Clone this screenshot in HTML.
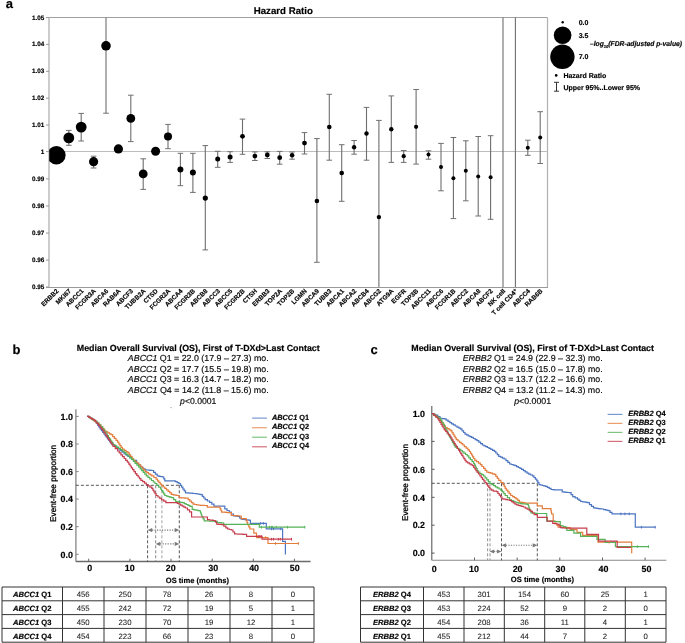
<!DOCTYPE html>
<html><head><meta charset="utf-8"><style>
html,body{margin:0;padding:0;background:#fff;}
body{width:685px;height:643px;overflow:hidden;}
svg{display:block;font-family:"Liberation Sans", sans-serif;will-change:transform;text-rendering:geometricPrecision;}
text{stroke:#000;stroke-width:0.17px;}
</style></head><body>
<svg width="685" height="643" viewBox="0 0 685 643" fill="#000">
<defs><clipPath id="pa"><rect x="49.2" y="0" width="500" height="300"/></clipPath></defs>
<text x="5.8" y="8.2" font-size="13" font-weight="bold">a</text>
<text x="283.3" y="13.9" font-size="9.7" font-weight="bold" text-anchor="middle">Hazard Ratio</text>
<line x1="49.0" y1="17.5" x2="547.5" y2="17.5" stroke="#a0a0a0" stroke-width="1"/>
<line x1="547.5" y1="17.5" x2="547.5" y2="287.2" stroke="#b0b0b0" stroke-width="1.2"/>
<line x1="49.0" y1="17.5" x2="49.0" y2="286.7" stroke="#cccccc" stroke-width="2"/>
<line x1="46.0" y1="287.4" x2="548.0" y2="287.4" stroke="#999" stroke-width="1.05"/>
<line x1="50.0" y1="151.5" x2="547.5" y2="151.5" stroke="#bdbdbd" stroke-width="1"/>
<line x1="46.0" y1="17.5" x2="49.0" y2="17.5" stroke="#999" stroke-width="1"/>
<text x="44.2" y="19.5" font-size="6.3" font-weight="bold" text-anchor="end" stroke="#000" stroke-width="0.15">1.05</text>
<line x1="46.0" y1="44.4" x2="49.0" y2="44.4" stroke="#999" stroke-width="1"/>
<text x="44.2" y="46.4" font-size="6.3" font-weight="bold" text-anchor="end" stroke="#000" stroke-width="0.15">1.04</text>
<line x1="46.0" y1="71.3" x2="49.0" y2="71.3" stroke="#999" stroke-width="1"/>
<text x="44.2" y="73.3" font-size="6.3" font-weight="bold" text-anchor="end" stroke="#000" stroke-width="0.15">1.03</text>
<line x1="46.0" y1="98.2" x2="49.0" y2="98.2" stroke="#999" stroke-width="1"/>
<text x="44.2" y="100.2" font-size="6.3" font-weight="bold" text-anchor="end" stroke="#000" stroke-width="0.15">1.02</text>
<line x1="46.0" y1="125.0" x2="49.0" y2="125.0" stroke="#999" stroke-width="1"/>
<text x="44.2" y="127.0" font-size="6.3" font-weight="bold" text-anchor="end" stroke="#000" stroke-width="0.15">1.01</text>
<line x1="46.0" y1="151.6" x2="49.0" y2="151.6" stroke="#999" stroke-width="1"/>
<text x="44.2" y="153.6" font-size="6.3" font-weight="bold" text-anchor="end" stroke="#000" stroke-width="0.15">1</text>
<line x1="46.0" y1="178.9" x2="49.0" y2="178.9" stroke="#999" stroke-width="1"/>
<text x="44.2" y="180.9" font-size="6.3" font-weight="bold" text-anchor="end" stroke="#000" stroke-width="0.15">0.99</text>
<line x1="46.0" y1="206.0" x2="49.0" y2="206.0" stroke="#999" stroke-width="1"/>
<text x="44.2" y="208.0" font-size="6.3" font-weight="bold" text-anchor="end" stroke="#000" stroke-width="0.15">0.98</text>
<line x1="46.0" y1="233.1" x2="49.0" y2="233.1" stroke="#999" stroke-width="1"/>
<text x="44.2" y="235.1" font-size="6.3" font-weight="bold" text-anchor="end" stroke="#000" stroke-width="0.15">0.97</text>
<line x1="46.0" y1="260.1" x2="49.0" y2="260.1" stroke="#999" stroke-width="1"/>
<text x="44.2" y="262.1" font-size="6.3" font-weight="bold" text-anchor="end" stroke="#000" stroke-width="0.15">0.96</text>
<line x1="46.0" y1="287.0" x2="49.0" y2="287.0" stroke="#999" stroke-width="1"/>
<text x="44.2" y="289.0" font-size="6.3" font-weight="bold" text-anchor="end" stroke="#000" stroke-width="0.15">0.95</text>
<circle cx="56.4" cy="155.3" r="9.2" fill="#000" clip-path="url(#pa)"/>
<line x1="68.8" y1="130.4" x2="68.8" y2="145.3" stroke="#6e6e6e" stroke-width="1.1"/>
<line x1="66.0" y1="130.4" x2="71.6" y2="130.4" stroke="#707070" stroke-width="1"/>
<line x1="66.0" y1="145.3" x2="71.6" y2="145.3" stroke="#707070" stroke-width="1"/>
<circle cx="68.8" cy="137.9" r="5.4" fill="#000" clip-path="url(#pa)"/>
<line x1="81.2" y1="113.4" x2="81.2" y2="141.0" stroke="#6e6e6e" stroke-width="1.1"/>
<line x1="78.4" y1="113.4" x2="84.0" y2="113.4" stroke="#707070" stroke-width="1"/>
<line x1="78.4" y1="141.0" x2="84.0" y2="141.0" stroke="#707070" stroke-width="1"/>
<circle cx="81.2" cy="127.1" r="5.4" fill="#000" clip-path="url(#pa)"/>
<line x1="93.6" y1="156.2" x2="93.6" y2="168.0" stroke="#6e6e6e" stroke-width="1.1"/>
<line x1="90.8" y1="156.2" x2="96.4" y2="156.2" stroke="#707070" stroke-width="1"/>
<line x1="90.8" y1="168.0" x2="96.4" y2="168.0" stroke="#707070" stroke-width="1"/>
<circle cx="93.6" cy="161.7" r="4.6" fill="#000" clip-path="url(#pa)"/>
<line x1="106.0" y1="17.5" x2="106.0" y2="113.2" stroke="#6e6e6e" stroke-width="1.1"/>
<line x1="103.2" y1="113.2" x2="108.8" y2="113.2" stroke="#707070" stroke-width="1"/>
<circle cx="106.0" cy="45.8" r="4.8" fill="#000" clip-path="url(#pa)"/>
<circle cx="118.4" cy="148.9" r="4.6" fill="#000" clip-path="url(#pa)"/>
<line x1="130.8" y1="95.2" x2="130.8" y2="141.6" stroke="#6e6e6e" stroke-width="1.1"/>
<line x1="128.0" y1="95.2" x2="133.6" y2="95.2" stroke="#707070" stroke-width="1"/>
<line x1="128.0" y1="141.6" x2="133.6" y2="141.6" stroke="#707070" stroke-width="1"/>
<circle cx="130.8" cy="118.4" r="4.4" fill="#000" clip-path="url(#pa)"/>
<line x1="143.2" y1="158.8" x2="143.2" y2="189.4" stroke="#6e6e6e" stroke-width="1.1"/>
<line x1="140.4" y1="158.8" x2="146.0" y2="158.8" stroke="#707070" stroke-width="1"/>
<line x1="140.4" y1="189.4" x2="146.0" y2="189.4" stroke="#707070" stroke-width="1"/>
<circle cx="143.2" cy="173.9" r="4.4" fill="#000" clip-path="url(#pa)"/>
<circle cx="155.6" cy="151.3" r="4.5" fill="#000" clip-path="url(#pa)"/>
<line x1="168.0" y1="124.4" x2="168.0" y2="148.7" stroke="#6e6e6e" stroke-width="1.1"/>
<line x1="165.2" y1="124.4" x2="170.8" y2="124.4" stroke="#707070" stroke-width="1"/>
<line x1="165.2" y1="148.7" x2="170.8" y2="148.7" stroke="#707070" stroke-width="1"/>
<circle cx="168.0" cy="136.5" r="4.0" fill="#000" clip-path="url(#pa)"/>
<line x1="180.4" y1="153.3" x2="180.4" y2="185.7" stroke="#6e6e6e" stroke-width="1.1"/>
<line x1="177.6" y1="153.3" x2="183.2" y2="153.3" stroke="#707070" stroke-width="1"/>
<line x1="177.6" y1="185.7" x2="183.2" y2="185.7" stroke="#707070" stroke-width="1"/>
<circle cx="180.4" cy="169.5" r="3.0" fill="#000" clip-path="url(#pa)"/>
<line x1="192.9" y1="153.3" x2="192.9" y2="192.4" stroke="#6e6e6e" stroke-width="1.1"/>
<line x1="190.1" y1="153.3" x2="195.7" y2="153.3" stroke="#707070" stroke-width="1"/>
<line x1="190.1" y1="192.4" x2="195.7" y2="192.4" stroke="#707070" stroke-width="1"/>
<circle cx="192.9" cy="172.6" r="3.0" fill="#000" clip-path="url(#pa)"/>
<line x1="205.3" y1="145.6" x2="205.3" y2="249.9" stroke="#6e6e6e" stroke-width="1.1"/>
<line x1="202.5" y1="145.6" x2="208.1" y2="145.6" stroke="#707070" stroke-width="1"/>
<line x1="202.5" y1="249.9" x2="208.1" y2="249.9" stroke="#707070" stroke-width="1"/>
<circle cx="205.3" cy="198.1" r="2.6" fill="#000" clip-path="url(#pa)"/>
<line x1="217.7" y1="151.3" x2="217.7" y2="167.3" stroke="#6e6e6e" stroke-width="1.1"/>
<line x1="214.9" y1="151.3" x2="220.5" y2="151.3" stroke="#707070" stroke-width="1"/>
<line x1="214.9" y1="167.3" x2="220.5" y2="167.3" stroke="#707070" stroke-width="1"/>
<circle cx="217.7" cy="159.1" r="2.5" fill="#000" clip-path="url(#pa)"/>
<line x1="230.1" y1="151.7" x2="230.1" y2="162.4" stroke="#6e6e6e" stroke-width="1.1"/>
<line x1="227.3" y1="151.7" x2="232.9" y2="151.7" stroke="#707070" stroke-width="1"/>
<line x1="227.3" y1="162.4" x2="232.9" y2="162.4" stroke="#707070" stroke-width="1"/>
<circle cx="230.1" cy="156.9" r="2.5" fill="#000" clip-path="url(#pa)"/>
<line x1="242.5" y1="119.1" x2="242.5" y2="154.3" stroke="#6e6e6e" stroke-width="1.1"/>
<line x1="239.7" y1="119.1" x2="245.3" y2="119.1" stroke="#707070" stroke-width="1"/>
<line x1="239.7" y1="154.3" x2="245.3" y2="154.3" stroke="#707070" stroke-width="1"/>
<circle cx="242.5" cy="136.3" r="2.4" fill="#000" clip-path="url(#pa)"/>
<line x1="254.9" y1="151.9" x2="254.9" y2="160.5" stroke="#6e6e6e" stroke-width="1.1"/>
<line x1="252.1" y1="151.9" x2="257.7" y2="151.9" stroke="#707070" stroke-width="1"/>
<line x1="252.1" y1="160.5" x2="257.7" y2="160.5" stroke="#707070" stroke-width="1"/>
<circle cx="254.9" cy="156.1" r="2.4" fill="#000" clip-path="url(#pa)"/>
<line x1="267.3" y1="151.8" x2="267.3" y2="158.5" stroke="#6e6e6e" stroke-width="1.1"/>
<line x1="264.5" y1="151.8" x2="270.1" y2="151.8" stroke="#707070" stroke-width="1"/>
<line x1="264.5" y1="158.5" x2="270.1" y2="158.5" stroke="#707070" stroke-width="1"/>
<circle cx="267.3" cy="154.9" r="2.4" fill="#000" clip-path="url(#pa)"/>
<line x1="279.7" y1="151.4" x2="279.7" y2="164.2" stroke="#6e6e6e" stroke-width="1.1"/>
<line x1="276.9" y1="151.4" x2="282.5" y2="151.4" stroke="#707070" stroke-width="1"/>
<line x1="276.9" y1="164.2" x2="282.5" y2="164.2" stroke="#707070" stroke-width="1"/>
<circle cx="279.7" cy="157.7" r="2.4" fill="#000" clip-path="url(#pa)"/>
<line x1="292.1" y1="152.0" x2="292.1" y2="159.2" stroke="#6e6e6e" stroke-width="1.1"/>
<line x1="289.3" y1="152.0" x2="294.9" y2="152.0" stroke="#707070" stroke-width="1"/>
<line x1="289.3" y1="159.2" x2="294.9" y2="159.2" stroke="#707070" stroke-width="1"/>
<circle cx="292.1" cy="155.3" r="2.3" fill="#000" clip-path="url(#pa)"/>
<line x1="304.5" y1="132.6" x2="304.5" y2="154.0" stroke="#6e6e6e" stroke-width="1.1"/>
<line x1="301.7" y1="132.6" x2="307.3" y2="132.6" stroke="#707070" stroke-width="1"/>
<line x1="301.7" y1="154.0" x2="307.3" y2="154.0" stroke="#707070" stroke-width="1"/>
<circle cx="304.5" cy="143.1" r="2.4" fill="#000" clip-path="url(#pa)"/>
<line x1="316.9" y1="138.6" x2="316.9" y2="262.3" stroke="#6e6e6e" stroke-width="1.1"/>
<line x1="314.1" y1="138.6" x2="319.7" y2="138.6" stroke="#707070" stroke-width="1"/>
<line x1="314.1" y1="262.3" x2="319.7" y2="262.3" stroke="#707070" stroke-width="1"/>
<circle cx="316.9" cy="201.0" r="2.3" fill="#000" clip-path="url(#pa)"/>
<line x1="329.3" y1="94.3" x2="329.3" y2="160.2" stroke="#6e6e6e" stroke-width="1.1"/>
<line x1="326.5" y1="94.3" x2="332.1" y2="94.3" stroke="#707070" stroke-width="1"/>
<line x1="326.5" y1="160.2" x2="332.1" y2="160.2" stroke="#707070" stroke-width="1"/>
<circle cx="329.3" cy="127.0" r="2.3" fill="#000" clip-path="url(#pa)"/>
<line x1="341.7" y1="144.7" x2="341.7" y2="201.3" stroke="#6e6e6e" stroke-width="1.1"/>
<line x1="338.9" y1="144.7" x2="344.5" y2="144.7" stroke="#707070" stroke-width="1"/>
<line x1="338.9" y1="201.3" x2="344.5" y2="201.3" stroke="#707070" stroke-width="1"/>
<circle cx="341.7" cy="173.0" r="2.3" fill="#000" clip-path="url(#pa)"/>
<line x1="354.1" y1="140.5" x2="354.1" y2="154.2" stroke="#6e6e6e" stroke-width="1.1"/>
<line x1="351.3" y1="140.5" x2="356.9" y2="140.5" stroke="#707070" stroke-width="1"/>
<line x1="351.3" y1="154.2" x2="356.9" y2="154.2" stroke="#707070" stroke-width="1"/>
<circle cx="354.1" cy="147.3" r="2.2" fill="#000" clip-path="url(#pa)"/>
<line x1="366.5" y1="107.4" x2="366.5" y2="160.2" stroke="#6e6e6e" stroke-width="1.1"/>
<line x1="363.7" y1="107.4" x2="369.3" y2="107.4" stroke="#707070" stroke-width="1"/>
<line x1="363.7" y1="160.2" x2="369.3" y2="160.2" stroke="#707070" stroke-width="1"/>
<circle cx="366.5" cy="133.5" r="2.2" fill="#000" clip-path="url(#pa)"/>
<line x1="378.9" y1="120.4" x2="378.9" y2="287.0" stroke="#6e6e6e" stroke-width="1.1"/>
<line x1="376.1" y1="120.4" x2="381.7" y2="120.4" stroke="#707070" stroke-width="1"/>
<circle cx="378.9" cy="217.1" r="2.2" fill="#000" clip-path="url(#pa)"/>
<line x1="391.3" y1="95.9" x2="391.3" y2="162.4" stroke="#6e6e6e" stroke-width="1.1"/>
<line x1="388.5" y1="95.9" x2="394.1" y2="95.9" stroke="#707070" stroke-width="1"/>
<line x1="388.5" y1="162.4" x2="394.1" y2="162.4" stroke="#707070" stroke-width="1"/>
<circle cx="391.3" cy="129.3" r="2.2" fill="#000" clip-path="url(#pa)"/>
<line x1="403.7" y1="150.5" x2="403.7" y2="162.4" stroke="#6e6e6e" stroke-width="1.1"/>
<line x1="400.9" y1="150.5" x2="406.5" y2="150.5" stroke="#707070" stroke-width="1"/>
<line x1="400.9" y1="162.4" x2="406.5" y2="162.4" stroke="#707070" stroke-width="1"/>
<circle cx="403.7" cy="156.2" r="2.1" fill="#000" clip-path="url(#pa)"/>
<line x1="416.1" y1="89.5" x2="416.1" y2="164.1" stroke="#6e6e6e" stroke-width="1.1"/>
<line x1="413.3" y1="89.5" x2="418.9" y2="89.5" stroke="#707070" stroke-width="1"/>
<line x1="413.3" y1="164.1" x2="418.9" y2="164.1" stroke="#707070" stroke-width="1"/>
<circle cx="416.1" cy="126.8" r="2.1" fill="#000" clip-path="url(#pa)"/>
<line x1="428.5" y1="150.8" x2="428.5" y2="159.2" stroke="#6e6e6e" stroke-width="1.1"/>
<line x1="425.7" y1="150.8" x2="431.3" y2="150.8" stroke="#707070" stroke-width="1"/>
<line x1="425.7" y1="159.2" x2="431.3" y2="159.2" stroke="#707070" stroke-width="1"/>
<circle cx="428.5" cy="154.5" r="2.0" fill="#000" clip-path="url(#pa)"/>
<line x1="441.0" y1="143.4" x2="441.0" y2="190.8" stroke="#6e6e6e" stroke-width="1.1"/>
<line x1="438.2" y1="143.4" x2="443.8" y2="143.4" stroke="#707070" stroke-width="1"/>
<line x1="438.2" y1="190.8" x2="443.8" y2="190.8" stroke="#707070" stroke-width="1"/>
<circle cx="441.0" cy="167.0" r="2.0" fill="#000" clip-path="url(#pa)"/>
<line x1="453.4" y1="137.5" x2="453.4" y2="218.6" stroke="#6e6e6e" stroke-width="1.1"/>
<line x1="450.6" y1="137.5" x2="456.2" y2="137.5" stroke="#707070" stroke-width="1"/>
<line x1="450.6" y1="218.6" x2="456.2" y2="218.6" stroke="#707070" stroke-width="1"/>
<circle cx="453.4" cy="178.2" r="2.0" fill="#000" clip-path="url(#pa)"/>
<line x1="465.8" y1="140.8" x2="465.8" y2="200.8" stroke="#6e6e6e" stroke-width="1.1"/>
<line x1="463.0" y1="140.8" x2="468.6" y2="140.8" stroke="#707070" stroke-width="1"/>
<line x1="463.0" y1="200.8" x2="468.6" y2="200.8" stroke="#707070" stroke-width="1"/>
<circle cx="465.8" cy="170.7" r="2.0" fill="#000" clip-path="url(#pa)"/>
<line x1="478.2" y1="136.5" x2="478.2" y2="216.0" stroke="#6e6e6e" stroke-width="1.1"/>
<line x1="475.4" y1="136.5" x2="481.0" y2="136.5" stroke="#707070" stroke-width="1"/>
<line x1="475.4" y1="216.0" x2="481.0" y2="216.0" stroke="#707070" stroke-width="1"/>
<circle cx="478.2" cy="176.4" r="2.0" fill="#000" clip-path="url(#pa)"/>
<line x1="490.6" y1="135.7" x2="490.6" y2="219.3" stroke="#6e6e6e" stroke-width="1.1"/>
<line x1="487.8" y1="135.7" x2="493.4" y2="135.7" stroke="#707070" stroke-width="1"/>
<line x1="487.8" y1="219.3" x2="493.4" y2="219.3" stroke="#707070" stroke-width="1"/>
<circle cx="490.6" cy="177.3" r="2.0" fill="#000" clip-path="url(#pa)"/>
<line x1="503.0" y1="17.5" x2="503.0" y2="287.0" stroke="#6e6e6e" stroke-width="1.1"/>
<line x1="515.4" y1="17.5" x2="515.4" y2="287.0" stroke="#6e6e6e" stroke-width="1.1"/>
<line x1="527.8" y1="140.2" x2="527.8" y2="155.3" stroke="#6e6e6e" stroke-width="1.1"/>
<line x1="525.0" y1="140.2" x2="530.6" y2="140.2" stroke="#707070" stroke-width="1"/>
<line x1="525.0" y1="155.3" x2="530.6" y2="155.3" stroke="#707070" stroke-width="1"/>
<circle cx="527.8" cy="147.7" r="2.0" fill="#000" clip-path="url(#pa)"/>
<line x1="540.2" y1="111.7" x2="540.2" y2="163.5" stroke="#6e6e6e" stroke-width="1.1"/>
<line x1="537.4" y1="111.7" x2="543.0" y2="111.7" stroke="#707070" stroke-width="1"/>
<line x1="537.4" y1="163.5" x2="543.0" y2="163.5" stroke="#707070" stroke-width="1"/>
<circle cx="540.2" cy="137.4" r="2.0" fill="#000" clip-path="url(#pa)"/>
<text transform="translate(56.3,288.7) rotate(-45)" font-size="6.4" font-weight="bold" text-anchor="end" dominant-baseline="hanging">ERBB2</text>
<text transform="translate(68.7,288.7) rotate(-45)" font-size="6.4" font-weight="bold" text-anchor="end" dominant-baseline="hanging">MKI67</text>
<text transform="translate(81.1,288.7) rotate(-45)" font-size="6.4" font-weight="bold" text-anchor="end" dominant-baseline="hanging">ABCC1</text>
<text transform="translate(93.5,288.7) rotate(-45)" font-size="6.4" font-weight="bold" text-anchor="end" dominant-baseline="hanging">FCGR3A</text>
<text transform="translate(105.9,288.7) rotate(-45)" font-size="6.4" font-weight="bold" text-anchor="end" dominant-baseline="hanging">ABCA6</text>
<text transform="translate(118.3,288.7) rotate(-45)" font-size="6.4" font-weight="bold" text-anchor="end" dominant-baseline="hanging">RAB6A</text>
<text transform="translate(130.7,288.7) rotate(-45)" font-size="6.4" font-weight="bold" text-anchor="end" dominant-baseline="hanging">ABCF3</text>
<text transform="translate(143.1,288.7) rotate(-45)" font-size="6.4" font-weight="bold" text-anchor="end" dominant-baseline="hanging">TUBB2A</text>
<text transform="translate(155.5,288.7) rotate(-45)" font-size="6.4" font-weight="bold" text-anchor="end" dominant-baseline="hanging">CTSD</text>
<text transform="translate(167.9,288.7) rotate(-45)" font-size="6.4" font-weight="bold" text-anchor="end" dominant-baseline="hanging">FCGR2A</text>
<text transform="translate(180.3,288.7) rotate(-45)" font-size="6.4" font-weight="bold" text-anchor="end" dominant-baseline="hanging">ABCA4</text>
<text transform="translate(192.8,288.7) rotate(-45)" font-size="6.4" font-weight="bold" text-anchor="end" dominant-baseline="hanging">FCGR3B</text>
<text transform="translate(205.2,288.7) rotate(-45)" font-size="6.4" font-weight="bold" text-anchor="end" dominant-baseline="hanging">ABCB8</text>
<text transform="translate(217.6,288.7) rotate(-45)" font-size="6.4" font-weight="bold" text-anchor="end" dominant-baseline="hanging">ABCC3</text>
<text transform="translate(230.0,288.7) rotate(-45)" font-size="6.4" font-weight="bold" text-anchor="end" dominant-baseline="hanging">ABCC5</text>
<text transform="translate(242.4,288.7) rotate(-45)" font-size="6.4" font-weight="bold" text-anchor="end" dominant-baseline="hanging">FCGR2B</text>
<text transform="translate(254.8,288.7) rotate(-45)" font-size="6.4" font-weight="bold" text-anchor="end" dominant-baseline="hanging">CTSH</text>
<text transform="translate(267.2,288.7) rotate(-45)" font-size="6.4" font-weight="bold" text-anchor="end" dominant-baseline="hanging">ERBB3</text>
<text transform="translate(279.6,288.7) rotate(-45)" font-size="6.4" font-weight="bold" text-anchor="end" dominant-baseline="hanging">TOP2A</text>
<text transform="translate(292.0,288.7) rotate(-45)" font-size="6.4" font-weight="bold" text-anchor="end" dominant-baseline="hanging">TOP2B</text>
<text transform="translate(304.4,288.7) rotate(-45)" font-size="6.4" font-weight="bold" text-anchor="end" dominant-baseline="hanging">LGMN</text>
<text transform="translate(316.8,288.7) rotate(-45)" font-size="6.4" font-weight="bold" text-anchor="end" dominant-baseline="hanging">ABCA9</text>
<text transform="translate(329.2,288.7) rotate(-45)" font-size="6.4" font-weight="bold" text-anchor="end" dominant-baseline="hanging">TUBB3</text>
<text transform="translate(341.6,288.7) rotate(-45)" font-size="6.4" font-weight="bold" text-anchor="end" dominant-baseline="hanging">ABCA1</text>
<text transform="translate(354.0,288.7) rotate(-45)" font-size="6.4" font-weight="bold" text-anchor="end" dominant-baseline="hanging">ABCA2</text>
<text transform="translate(366.4,288.7) rotate(-45)" font-size="6.4" font-weight="bold" text-anchor="end" dominant-baseline="hanging">ABCB4</text>
<text transform="translate(378.8,288.7) rotate(-45)" font-size="6.4" font-weight="bold" text-anchor="end" dominant-baseline="hanging">ABCG2</text>
<text transform="translate(391.2,288.7) rotate(-45)" font-size="6.4" font-weight="bold" text-anchor="end" dominant-baseline="hanging">ATG9A</text>
<text transform="translate(403.6,288.7) rotate(-45)" font-size="6.4" font-weight="bold" text-anchor="end" dominant-baseline="hanging">EGFR</text>
<text transform="translate(416.0,288.7) rotate(-45)" font-size="6.4" font-weight="bold" text-anchor="end" dominant-baseline="hanging">TOP3B</text>
<text transform="translate(428.4,288.7) rotate(-45)" font-size="6.4" font-weight="bold" text-anchor="end" dominant-baseline="hanging">ABCC11</text>
<text transform="translate(440.9,288.7) rotate(-45)" font-size="6.4" font-weight="bold" text-anchor="end" dominant-baseline="hanging">ABCC6</text>
<text transform="translate(453.3,288.7) rotate(-45)" font-size="6.4" font-weight="bold" text-anchor="end" dominant-baseline="hanging">FCGR1B</text>
<text transform="translate(465.7,288.7) rotate(-45)" font-size="6.4" font-weight="bold" text-anchor="end" dominant-baseline="hanging">ABCC2</text>
<text transform="translate(478.1,288.7) rotate(-45)" font-size="6.4" font-weight="bold" text-anchor="end" dominant-baseline="hanging">ABCA8</text>
<text transform="translate(490.5,288.7) rotate(-45)" font-size="6.4" font-weight="bold" text-anchor="end" dominant-baseline="hanging">ABCF2</text>
<text transform="translate(502.9,288.7) rotate(-45)" font-size="6.4" font-weight="bold" text-anchor="end" dominant-baseline="hanging">NK cell</text>
<text transform="translate(515.3,288.7) rotate(-45)" font-size="6.4" font-weight="bold" text-anchor="end" dominant-baseline="hanging">T cell CD4<tspan font-size="5" dy="-1">+</tspan></text>
<text transform="translate(527.7,288.7) rotate(-45)" font-size="6.4" font-weight="bold" text-anchor="end" dominant-baseline="hanging">ABCC4</text>
<text transform="translate(540.1,288.7) rotate(-45)" font-size="6.4" font-weight="bold" text-anchor="end" dominant-baseline="hanging">RAB6B</text>
<circle cx="562.7" cy="22.3" r="1.2" fill="#000"/>
<circle cx="562.6" cy="35.2" r="8.8" fill="#000"/>
<circle cx="562.4" cy="56.8" r="12.2" fill="#000"/>
<text x="578.7" y="24.6" font-size="7" font-weight="bold">0.0</text>
<text x="578.7" y="38.1" font-size="7" font-weight="bold">3.5</text>
<text x="578.7" y="59.3" font-size="7" font-weight="bold">7.0</text>
<text x="590" y="46.3" font-size="7" font-weight="bold" font-style="italic" textLength="92" lengthAdjust="spacingAndGlyphs">&#8211;log<tspan font-size="4.2" dy="2">10</tspan><tspan dy="-2">(FDR-adjusted p-value)</tspan></text>
<circle cx="556.2" cy="75.4" r="1.3" fill="#000"/>
<text x="563.4" y="77.9" font-size="7" font-weight="bold">Hazard Ratio</text>
<path d="M554 82.3 H559 M556.5 82.3 V91.2 M554 91.2 H559" stroke="#333" stroke-width="1" fill="none"/>
<text x="563.4" y="90" font-size="7" font-weight="bold">Upper 95%..Lower 95%</text>
<text x="12.6" y="353.9" font-size="13" font-weight="bold">b</text>
<text x="198.25" y="350.9" font-size="8.86" font-weight="bold" text-anchor="middle" textLength="242.9" lengthAdjust="spacingAndGlyphs">Median Overall Survival (OS), First of T-DXd&gt;Last Contact</text>
<text x="198.25" y="361.4" font-size="8.7" text-anchor="middle" fill="#111" stroke="#111" stroke-width="0.18" textLength="140.8" lengthAdjust="spacingAndGlyphs"><tspan font-style="italic">ABCC1</tspan> Q1 = 22.0 (17.9 &#8211; 27.3) mo.</text>
<text x="198.25" y="371.8" font-size="8.7" text-anchor="middle" fill="#111" stroke="#111" stroke-width="0.18" textLength="140.8" lengthAdjust="spacingAndGlyphs"><tspan font-style="italic">ABCC1</tspan> Q2 = 17.7 (15.5 &#8211; 19.8) mo.</text>
<text x="198.25" y="382.2" font-size="8.7" text-anchor="middle" fill="#111" stroke="#111" stroke-width="0.18" textLength="140.8" lengthAdjust="spacingAndGlyphs"><tspan font-style="italic">ABCC1</tspan> Q3 = 16.3 (14.7 &#8211; 18.2) mo.</text>
<text x="198.25" y="392.6" font-size="8.7" text-anchor="middle" fill="#111" stroke="#111" stroke-width="0.18" textLength="140.8" lengthAdjust="spacingAndGlyphs"><tspan font-style="italic">ABCC1</tspan> Q4 = 14.2 (11.8 &#8211; 15.6) mo.</text>
<text x="198.25" y="403.5" font-size="8.7" text-anchor="middle" fill="#111" stroke="#111" stroke-width="0.18" textLength="36.4" lengthAdjust="spacingAndGlyphs"><tspan font-style="italic">p</tspan>&lt;0.0001</text>
<line x1="75.9" y1="409.3" x2="75.9" y2="561.5" stroke="#858585" stroke-width="1.3"/>
<line x1="75.9" y1="561.5" x2="310.6" y2="561.5" stroke="#6a6a6a" stroke-width="1.3"/>
<line x1="75.9" y1="554.3" x2="78.7" y2="554.3" stroke="#858585" stroke-width="1"/>
<text x="72.9" y="557.5" font-size="8.9" font-weight="bold" text-anchor="end">0.0</text>
<line x1="75.9" y1="526.7" x2="78.7" y2="526.7" stroke="#858585" stroke-width="1"/>
<text x="72.9" y="529.9" font-size="8.9" font-weight="bold" text-anchor="end">0.2</text>
<line x1="75.9" y1="499.1" x2="78.7" y2="499.1" stroke="#858585" stroke-width="1"/>
<text x="72.9" y="502.3" font-size="8.9" font-weight="bold" text-anchor="end">0.4</text>
<line x1="75.9" y1="471.6" x2="78.7" y2="471.6" stroke="#858585" stroke-width="1"/>
<text x="72.9" y="474.8" font-size="8.9" font-weight="bold" text-anchor="end">0.6</text>
<line x1="75.9" y1="444.0" x2="78.7" y2="444.0" stroke="#858585" stroke-width="1"/>
<text x="72.9" y="447.2" font-size="8.9" font-weight="bold" text-anchor="end">0.8</text>
<line x1="75.9" y1="416.4" x2="78.7" y2="416.4" stroke="#858585" stroke-width="1"/>
<text x="72.9" y="419.6" font-size="8.9" font-weight="bold" text-anchor="end">1.0</text>
<line x1="88.7" y1="558.7" x2="88.7" y2="561.5" stroke="#666" stroke-width="1"/>
<text x="89.6" y="571.0" font-size="8.9" font-weight="bold" text-anchor="middle">0</text>
<line x1="129.9" y1="558.7" x2="129.9" y2="561.5" stroke="#666" stroke-width="1"/>
<text x="129.7" y="571.0" font-size="8.9" font-weight="bold" text-anchor="middle">10</text>
<line x1="171.0" y1="558.7" x2="171.0" y2="561.5" stroke="#666" stroke-width="1"/>
<text x="170.8" y="571.0" font-size="8.9" font-weight="bold" text-anchor="middle">20</text>
<line x1="212.2" y1="558.7" x2="212.2" y2="561.5" stroke="#666" stroke-width="1"/>
<text x="213.2" y="571.0" font-size="8.9" font-weight="bold" text-anchor="middle">30</text>
<line x1="253.3" y1="558.7" x2="253.3" y2="561.5" stroke="#666" stroke-width="1"/>
<text x="254.1" y="571.0" font-size="8.9" font-weight="bold" text-anchor="middle">40</text>
<line x1="294.4" y1="558.7" x2="294.4" y2="561.5" stroke="#666" stroke-width="1"/>
<text x="294.7" y="571.0" font-size="8.9" font-weight="bold" text-anchor="middle">50</text>
<text x="197.4" y="583.1" font-size="7.6" font-weight="bold" text-anchor="middle">OS time (months)</text>
<text transform="translate(55.8,483.4) rotate(-90)" font-size="8.3" text-anchor="middle" style="stroke-width:0.3px" textLength="77" lengthAdjust="spacingAndGlyphs">Event-free proportion</text>
<line x1="75.9" y1="485.3" x2="179.3" y2="485.3" stroke="#444" stroke-width="0.9" stroke-dasharray="3,2"/>
<line x1="147.6" y1="485.3" x2="147.6" y2="561.5" stroke="#444" stroke-width="0.9" stroke-dasharray="3,2"/>
<line x1="155.7" y1="485.3" x2="155.7" y2="561.5" stroke="#777" stroke-width="0.9" stroke-dasharray="3,2"/>
<line x1="161.9" y1="485.3" x2="161.9" y2="561.5" stroke="#999" stroke-width="0.9" stroke-dasharray="3,2"/>
<line x1="179.3" y1="485.3" x2="179.3" y2="561.5" stroke="#444" stroke-width="0.9" stroke-dasharray="3,2"/>
<line x1="152.0" y1="530.1" x2="174.9" y2="530.1" stroke="#7a7a7a" stroke-width="1.1" stroke-dasharray="1.2,1.3"/>
<path d="M147.6 530.1 L152.2 528.0 L152.2 532.2Z M179.3 530.1 L174.70000000000002 528.0 L174.70000000000002 532.2Z" fill="#7a7a7a"/>
<line x1="160.1" y1="543.9" x2="174.9" y2="543.9" stroke="#7a7a7a" stroke-width="1.1" stroke-dasharray="1.2,1.3"/>
<path d="M155.7 543.9 L160.29999999999998 541.8 L160.29999999999998 546.0Z M179.3 543.9 L174.70000000000002 541.8 L174.70000000000002 546.0Z" fill="#7a7a7a"/>
<path d="M87.0 416.3 L88.6 416.3 L88.6 417.3 L90.2 417.3 L90.2 418.4 L91.8 418.4 L91.8 419.4 L93.4 419.4 L93.4 420.5 L95.0 420.5 L95.0 421.5 L96.3 421.5 L96.3 423.3 L97.6 423.3 L97.6 425.1 L98.8 425.1 L98.8 426.9 L100.1 426.9 L100.1 428.8 L101.4 428.8 L101.4 430.6 L102.7 430.6 L102.7 432.4 L103.9 432.4 L103.9 434.0 L105.1 434.0 L105.1 435.6 L106.3 435.6 L106.3 437.2 L107.5 437.2 L107.5 438.8 L108.7 438.8 L108.7 440.4 L109.9 440.4 L109.9 442.0 L111.1 442.0 L111.1 443.6 L112.8 443.6 L112.8 445.0 L114.5 445.0 L114.5 446.3 L116.3 446.3 L116.3 447.6 L118.0 447.6 L118.0 449.0 L120.1 449.0 L120.1 450.6 L122.1 450.6 L122.1 452.2 L124.2 452.2 L124.2 453.8 L126.1 453.8 L126.1 455.1 L127.9 455.1 L127.9 456.4 L129.8 456.4 L129.8 457.8 L131.6 457.8 L131.6 459.1 L133.5 459.1 L133.5 460.4 L136.5 460.4 L136.5 463.4 L138.6 463.4 L138.6 465.2 L140.7 465.2 L140.7 467.0 L142.8 467.0 L142.8 468.8 L145.2 468.8 L145.2 469.9 L146.8 469.9 L146.8 470.0 L148.5 470.0 L148.5 470.2 L150.2 470.2 L150.2 470.4 L151.8 470.4 L151.8 470.5 L153.6 470.5 L153.6 472.3 L155.4 472.3 L155.4 474.1 L157.2 474.1 L157.2 475.9 L159.0 475.9 L159.0 476.3 L160.9 476.3 L160.9 476.6 L162.7 476.6 L162.7 477.0 L163.8 477.0 L163.8 478.9 L164.8 478.9 L164.8 480.8 L173.5 480.8 L175.3 480.8 L175.3 481.7 L177.2 481.7 L177.2 482.6 L179.0 482.6 L179.0 483.5 L180.3 483.5 L180.3 485.4 L181.6 485.4 L181.6 487.2 L182.9 487.2 L182.9 489.1 L184.2 489.1 L184.2 490.9 L185.5 490.9 L185.5 492.8 L187.2 492.8 L187.2 492.9 L188.8 492.9 L188.8 493.1 L190.4 493.1 L190.4 493.2 L192.1 493.2 L192.1 493.3 L193.8 493.3 L193.8 493.5 L195.4 493.5 L195.4 493.6 L197.2 493.6 L197.2 494.0 L199.1 494.0 L199.1 494.3 L200.9 494.3 L200.9 494.7 L202.3 494.7 L202.3 496.3 L203.8 496.3 L203.8 498.0 L205.2 498.0 L205.2 499.6 L207.4 499.6 L207.4 501.0 L209.6 501.0 L209.6 502.3 L211.8 502.3 L211.8 504.2 L214.0 504.2 L214.0 506.1 L222.7 506.1 L224.8 506.1 L224.8 508.8 L227.0 508.8 L227.0 510.5 L229.2 510.5 L229.2 512.1 L231.3 512.1 L231.3 514.0 L233.5 514.0 L233.5 515.9 L235.7 515.9 L235.7 516.2 L237.9 516.2 L237.9 516.5 L239.6 516.5 L239.6 517.9 L241.2 517.9 L241.2 519.2 L242.9 519.2 L242.9 519.4 L244.7 519.4 L244.7 519.6 L246.4 519.6 L246.4 519.9 L248.2 519.9 L248.2 520.1 L249.9 520.1 L249.9 520.3 L250.4 520.3 L250.4 523.4 L266.3 523.4 L266.3 528.9 L282.6 528.9 L282.6 541.4 L285.4 541.4 L285.4 554.4" stroke="#4d76c2" stroke-width="1.2" fill="none" stroke-linejoin="miter"/>
<path d="M87.0 416.3 L88.7 416.3 L88.7 417.4 L90.4 417.4 L90.4 418.6 L92.0 418.6 L92.0 419.7 L93.7 419.7 L93.7 420.8 L95.4 420.8 L95.4 422.0 L97.1 422.0 L97.1 423.1 L99.0 423.1 L99.0 425.1 L100.8 425.1 L100.8 427.1 L102.7 427.1 L102.7 429.0 L104.6 429.0 L104.6 431.0 L106.2 431.0 L106.2 431.9 L107.8 431.9 L107.8 432.9 L109.5 432.9 L109.5 433.8 L111.1 433.8 L111.1 434.7 L112.7 434.7 L112.7 436.6 L114.3 436.6 L114.3 438.4 L116.0 438.4 L116.0 440.3 L117.6 440.3 L117.6 442.2 L118.8 442.2 L118.8 443.9 L119.9 443.9 L119.9 445.7 L121.1 445.7 L121.1 447.4 L122.3 447.4 L122.3 449.2 L124.2 449.2 L124.2 450.4 L126.0 450.4 L126.0 451.7 L127.9 451.7 L127.9 452.9 L129.3 452.9 L129.3 454.8 L130.7 454.8 L130.7 456.6 L132.1 456.6 L132.1 458.5 L133.5 458.5 L133.5 460.4 L135.2 460.4 L135.2 461.8 L137.0 461.8 L137.0 463.1 L138.7 463.1 L138.7 464.5 L140.3 464.5 L140.3 466.3 L141.9 466.3 L141.9 468.1 L143.6 468.1 L143.6 469.8 L145.2 469.8 L145.2 471.6 L146.8 471.6 L146.8 472.7 L148.5 472.7 L148.5 473.8 L150.2 473.8 L150.2 474.8 L151.8 474.8 L151.8 475.9 L153.9 475.9 L153.9 477.5 L156.1 477.5 L156.1 479.2 L157.5 479.2 L157.5 480.8 L158.8 480.8 L158.8 482.4 L160.2 482.4 L160.2 484.1 L161.6 484.1 L161.6 485.7 L163.2 485.7 L163.2 487.0 L164.8 487.0 L164.8 488.4 L166.5 488.4 L166.5 489.9 L168.1 489.9 L168.1 491.4 L169.8 491.4 L169.8 492.9 L171.4 492.9 L171.4 494.4 L173.2 494.4 L173.2 494.8 L175.0 494.8 L175.0 495.1 L176.8 495.1 L176.8 495.5 L179.0 495.5 L179.0 497.7 L180.9 497.7 L180.9 497.8 L182.8 497.8 L182.8 497.9 L184.7 497.9 L184.7 498.1 L186.6 498.1 L186.6 498.2 L188.2 498.2 L188.2 499.7 L189.8 499.7 L189.8 501.2 L191.5 501.2 L191.5 502.7 L193.1 502.7 L193.1 504.2 L194.8 504.2 L194.8 504.5 L196.6 504.5 L196.6 504.8 L198.3 504.8 L198.3 505.0 L200.0 505.0 L200.0 505.3 L202.1 505.3 L202.1 505.4 L204.2 505.4 L204.2 505.5 L206.3 505.5 L206.3 505.6 L207.4 505.6 L207.4 507.2 L219.4 507.2 L220.1 507.2 L220.1 508.8 L220.9 508.8 L220.9 510.5 L221.6 510.5 L221.6 512.1 L223.5 512.1 L223.5 512.2 L225.4 512.2 L225.4 512.4 L227.3 512.4 L227.3 512.6 L229.2 512.6 L229.2 512.7 L231.4 512.7 L231.4 515.4 L233.3 515.4 L233.3 515.5 L235.2 515.5 L235.2 515.7 L237.1 515.7 L237.1 515.9 L239.0 515.9 L239.0 516.0 L241.2 516.0 L241.2 518.6 L245.5 518.6 L246.2 518.6 L246.2 520.6 L247.0 520.6 L247.0 522.6 L247.7 522.6 L247.7 524.6 L248.8 524.6 L248.8 526.8 L249.9 526.8 L249.9 529.0 L253.8 529.0 L253.8 533.2 L256.5 533.2 L256.5 537.6 L268.0 537.6 L268.0 543.5 L299.0 543.5" stroke="#e47d3c" stroke-width="1.2" fill="none" stroke-linejoin="miter"/>
<path d="M87.0 416.3 L88.6 416.3 L88.6 417.2 L90.2 417.2 L90.2 418.2 L91.8 418.2 L91.8 419.1 L93.4 419.1 L93.4 420.1 L95.0 420.1 L95.0 421.0 L96.9 421.0 L96.9 422.9 L98.8 422.9 L98.8 424.9 L100.8 424.9 L100.8 426.8 L102.7 426.8 L102.7 428.7 L103.8 428.7 L103.8 430.5 L105.0 430.5 L105.0 432.2 L106.1 432.2 L106.1 434.0 L107.3 434.0 L107.3 435.7 L108.4 435.7 L108.4 437.5 L109.6 437.5 L109.6 439.2 L110.7 439.2 L110.7 441.0 L111.9 441.0 L111.9 442.7 L113.0 442.7 L113.0 444.5 L114.9 444.5 L114.9 445.8 L116.7 445.8 L116.7 447.1 L118.6 447.1 L118.6 448.4 L120.4 448.4 L120.4 449.7 L122.3 449.7 L122.3 451.0 L124.2 451.0 L124.2 452.7 L126.0 452.7 L126.0 454.4 L127.9 454.4 L127.9 456.0 L129.7 456.0 L129.7 457.7 L131.6 457.7 L131.6 459.4 L133.4 459.4 L133.4 461.3 L135.1 461.3 L135.1 463.3 L136.9 463.3 L136.9 465.2 L138.7 465.2 L138.7 467.2 L140.2 467.2 L140.2 468.9 L141.7 468.9 L141.7 470.7 L143.3 470.7 L143.3 472.4 L144.8 472.4 L144.8 474.2 L146.3 474.2 L146.3 475.9 L148.0 475.9 L148.0 477.4 L149.8 477.4 L149.8 478.9 L151.5 478.9 L151.5 480.5 L153.3 480.5 L153.3 482.0 L155.0 482.0 L155.0 483.5 L156.8 483.5 L156.8 485.3 L158.7 485.3 L158.7 487.2 L160.5 487.2 L160.5 489.0 L161.6 489.0 L161.6 490.6 L162.7 490.6 L162.7 492.2 L163.7 492.2 L163.7 493.9 L164.8 493.9 L164.8 495.5 L166.5 495.5 L166.5 496.1 L168.1 496.1 L168.1 496.6 L169.8 496.6 L169.8 497.1 L171.4 497.1 L171.4 497.7 L173.6 497.7 L173.6 499.6 L175.7 499.6 L175.7 501.5 L177.3 501.5 L177.3 501.8 L179.0 501.8 L179.0 502.1 L180.7 502.1 L180.7 502.3 L182.3 502.3 L182.3 502.6 L184.2 502.6 L184.2 503.6 L186.1 503.6 L186.1 504.5 L188.0 504.5 L188.0 505.4 L189.9 505.4 L189.9 506.4 L192.2 506.4 L192.2 509.4 L194.1 509.4 L194.1 509.8 L196.0 509.8 L196.0 510.2 L197.9 510.2 L197.9 510.6 L199.8 510.6 L199.8 511.0 L200.5 511.0 L200.5 513.0 L201.3 513.0 L201.3 515.0 L202.0 515.0 L202.0 517.0 L203.1 517.0 L203.1 518.9 L204.2 518.9 L204.2 520.8 L205.9 520.8 L205.9 520.9 L207.6 520.9 L207.6 521.0 L209.3 521.0 L209.3 521.1 L211.0 521.1 L211.0 521.1 L212.7 521.1 L212.7 521.2 L214.4 521.2 L214.4 521.3 L216.1 521.3 L216.1 521.4 L217.2 521.4 L217.2 522.5 L219.0 522.5 L219.0 522.7 L220.9 522.7 L220.9 522.8 L222.7 522.8 L222.7 523.0 L223.7 523.0 L223.7 524.4 L259.3 524.4 L259.3 527.2 L305.0 527.2" stroke="#55b257" stroke-width="1.2" fill="none" stroke-linejoin="miter"/>
<path d="M87.0 416.3 L88.8 416.3 L88.8 417.3 L90.7 417.3 L90.7 418.3 L92.5 418.3 L92.5 419.3 L94.3 419.3 L94.3 420.3 L95.7 420.3 L95.7 422.0 L97.1 422.0 L97.1 423.7 L98.5 423.7 L98.5 425.4 L99.9 425.4 L99.9 427.1 L101.3 427.1 L101.3 428.8 L102.7 428.8 L102.7 430.5 L103.8 430.5 L103.8 432.3 L105.0 432.3 L105.0 434.0 L106.1 434.0 L106.1 435.8 L107.3 435.8 L107.3 437.6 L108.4 437.6 L108.4 439.3 L109.6 439.3 L109.6 441.1 L110.7 441.1 L110.7 442.9 L111.9 442.9 L111.9 444.6 L113.0 444.6 L113.0 446.4 L115.3 446.4 L115.3 448.7 L117.6 448.7 L117.6 451.0 L119.2 451.0 L119.2 452.9 L120.9 452.9 L120.9 454.8 L122.5 454.8 L122.5 456.6 L124.2 456.6 L124.2 458.5 L125.7 458.5 L125.7 460.4 L127.3 460.4 L127.3 462.2 L128.8 462.2 L128.8 464.1 L130.1 464.1 L130.1 466.0 L131.3 466.0 L131.3 467.8 L132.6 467.8 L132.6 469.7 L134.0 469.7 L134.0 471.7 L135.4 471.7 L135.4 473.7 L136.8 473.7 L136.8 475.4 L138.2 475.4 L138.2 477.0 L139.5 477.0 L139.5 478.6 L140.9 478.6 L140.9 480.3 L142.7 480.3 L142.7 481.7 L144.5 481.7 L144.5 483.2 L146.3 483.2 L146.3 484.6 L148.1 484.6 L148.1 485.9 L150.0 485.9 L150.0 487.1 L151.8 487.1 L151.8 488.4 L152.9 488.4 L152.9 490.2 L153.9 490.2 L153.9 491.9 L155.0 491.9 L155.0 493.7 L156.1 493.7 L156.1 495.5 L157.9 495.5 L157.9 497.0 L159.8 497.0 L159.8 498.4 L161.6 498.4 L161.6 499.9 L163.8 499.9 L163.8 501.2 L165.9 501.2 L165.9 502.6 L175.7 502.6 L177.3 502.6 L177.3 503.4 L179.0 503.4 L179.0 504.2 L180.6 504.2 L180.6 505.1 L182.2 505.1 L182.2 506.1 L183.9 506.1 L183.9 507.1 L185.5 507.1 L185.5 508.0 L187.5 508.0 L187.5 509.9 L189.6 509.9 L189.6 511.8 L191.6 511.8 L191.6 513.7 L191.6 517.0 L206.3 517.0 L207.4 517.0 L207.4 519.7 L209.3 519.7 L209.3 520.0 L211.2 520.0 L211.2 520.2 L213.1 520.2 L213.1 520.5 L215.0 520.5 L215.0 520.8 L215.8 520.8 L215.8 522.5 L216.7 522.5 L216.7 524.1 L218.3 524.1 L218.3 524.3 L220.0 524.3 L220.0 524.4 L221.6 524.4 L221.6 524.6 L223.8 524.6 L223.8 526.2 L225.9 526.2 L225.9 527.9 L227.6 527.9 L227.6 529.0 L229.5 529.0 L229.5 529.5 L231.4 529.5 L231.4 530.0 L233.0 530.0 L233.0 532.0 L234.6 532.0 L234.6 533.9 L236.2 533.9 L236.2 534.0 L237.9 534.0 L237.9 534.1 L239.5 534.1 L239.5 534.1 L241.1 534.1 L241.1 534.2 L242.8 534.2 L242.8 534.3 L244.4 534.3 L244.4 534.4 L246.6 534.4 L246.6 536.4 L262.0 536.4 L262.0 539.2 L291.7 539.2" stroke="#c63e4e" stroke-width="1.2" fill="none" stroke-linejoin="miter"/>
<path d="M261.4 525.9V528.5 M269.5 525.9V528.5 M271.5 525.9V528.5 M272.3 525.9V528.5 M276.3 525.9V528.5 M287.5 525.9V528.5 M304.8 525.9V528.5" stroke="#55b257" stroke-width="1" fill="none"/>
<path d="M271.5 527.6V530.2 M273.5 527.6V530.2 M280.7 527.6V530.2" stroke="#4d76c2" stroke-width="1" fill="none"/>
<path d="M260.6 522.1V524.7 M263.4 522.1V524.7" stroke="#4d76c2" stroke-width="1" fill="none"/>
<path d="M271.5 537.9V540.5 M273.5 537.9V540.5 M278.3 537.9V540.5 M280.3 537.9V540.5 M291.5 537.9V540.5" stroke="#c63e4e" stroke-width="1" fill="none"/>
<path d="M275.5 542.2V544.8 M298.4 542.2V544.8" stroke="#e47d3c" stroke-width="1" fill="none"/>
<path d="M258.2 535.1V537.7 M259.8 535.1V537.7 M261.4 535.1V537.7" stroke="#c63e4e" stroke-width="1" fill="none"/>
<path d="M265.4 536.3V538.9" stroke="#e47d3c" stroke-width="1" fill="none"/>
<line x1="252.1" y1="418.1" x2="266.9" y2="418.1" stroke="#4d76c2" stroke-width="1.2" opacity="0.75"/>
<text x="271.9" y="419.6" font-size="7.5" font-weight="bold" textLength="37.3" lengthAdjust="spacingAndGlyphs"><tspan font-style="italic">ABCC1</tspan> Q1</text>
<line x1="252.1" y1="427.7" x2="266.9" y2="427.7" stroke="#e47d3c" stroke-width="1.2" opacity="0.75"/>
<text x="271.9" y="429.2" font-size="7.5" font-weight="bold" textLength="37.3" lengthAdjust="spacingAndGlyphs"><tspan font-style="italic">ABCC1</tspan> Q2</text>
<line x1="252.1" y1="437.2" x2="266.9" y2="437.2" stroke="#55b257" stroke-width="1.2" opacity="0.75"/>
<text x="271.9" y="438.7" font-size="7.5" font-weight="bold" textLength="37.3" lengthAdjust="spacingAndGlyphs"><tspan font-style="italic">ABCC1</tspan> Q3</text>
<line x1="252.1" y1="446.8" x2="266.9" y2="446.8" stroke="#c63e4e" stroke-width="1.2" opacity="0.75"/>
<text x="271.9" y="448.2" font-size="7.5" font-weight="bold" textLength="37.3" lengthAdjust="spacingAndGlyphs"><tspan font-style="italic">ABCC1</tspan> Q4</text>
<line x1="2.0" y1="587.0" x2="314.0" y2="587.0" stroke="#333" stroke-width="1"/>
<line x1="2.0" y1="600.8" x2="314.0" y2="600.8" stroke="#333" stroke-width="1"/>
<line x1="2.0" y1="614.6" x2="314.0" y2="614.6" stroke="#333" stroke-width="1"/>
<line x1="2.0" y1="628.4" x2="314.0" y2="628.4" stroke="#333" stroke-width="1"/>
<line x1="2.0" y1="642.2" x2="314.0" y2="642.2" stroke="#333" stroke-width="1"/>
<line x1="2.0" y1="587.0" x2="2.0" y2="642.2" stroke="#333" stroke-width="1"/>
<line x1="62.5" y1="587.0" x2="62.5" y2="642.2" stroke="#333" stroke-width="1"/>
<line x1="104.0" y1="587.0" x2="104.0" y2="642.2" stroke="#333" stroke-width="1"/>
<line x1="146.0" y1="587.0" x2="146.0" y2="642.2" stroke="#333" stroke-width="1"/>
<line x1="188.0" y1="587.0" x2="188.0" y2="642.2" stroke="#333" stroke-width="1"/>
<line x1="230.0" y1="587.0" x2="230.0" y2="642.2" stroke="#333" stroke-width="1"/>
<line x1="272.0" y1="587.0" x2="272.0" y2="642.2" stroke="#333" stroke-width="1"/>
<line x1="314.0" y1="587.0" x2="314.0" y2="642.2" stroke="#333" stroke-width="1"/>
<text x="32.2" y="597.2" font-size="7.6" font-weight="bold" text-anchor="middle"><tspan font-style="italic">ABCC1</tspan> Q1</text>
<text x="83.2" y="597.2" font-size="7.8" text-anchor="middle" fill="#222" style="stroke:#222;stroke-width:0.06px">456</text>
<text x="125.0" y="597.2" font-size="7.8" text-anchor="middle" fill="#222" style="stroke:#222;stroke-width:0.06px">250</text>
<text x="167.0" y="597.2" font-size="7.8" text-anchor="middle" fill="#222" style="stroke:#222;stroke-width:0.06px">78</text>
<text x="209.0" y="597.2" font-size="7.8" text-anchor="middle" fill="#222" style="stroke:#222;stroke-width:0.06px">26</text>
<text x="251.0" y="597.2" font-size="7.8" text-anchor="middle" fill="#222" style="stroke:#222;stroke-width:0.06px">8</text>
<text x="293.0" y="597.2" font-size="7.8" text-anchor="middle" fill="#222" style="stroke:#222;stroke-width:0.06px">0</text>
<text x="32.2" y="611.0" font-size="7.6" font-weight="bold" text-anchor="middle"><tspan font-style="italic">ABCC1</tspan> Q2</text>
<text x="83.2" y="611.0" font-size="7.8" text-anchor="middle" fill="#222" style="stroke:#222;stroke-width:0.06px">455</text>
<text x="125.0" y="611.0" font-size="7.8" text-anchor="middle" fill="#222" style="stroke:#222;stroke-width:0.06px">242</text>
<text x="167.0" y="611.0" font-size="7.8" text-anchor="middle" fill="#222" style="stroke:#222;stroke-width:0.06px">72</text>
<text x="209.0" y="611.0" font-size="7.8" text-anchor="middle" fill="#222" style="stroke:#222;stroke-width:0.06px">19</text>
<text x="251.0" y="611.0" font-size="7.8" text-anchor="middle" fill="#222" style="stroke:#222;stroke-width:0.06px">5</text>
<text x="293.0" y="611.0" font-size="7.8" text-anchor="middle" fill="#222" style="stroke:#222;stroke-width:0.06px">1</text>
<text x="32.2" y="624.8" font-size="7.6" font-weight="bold" text-anchor="middle"><tspan font-style="italic">ABCC1</tspan> Q3</text>
<text x="83.2" y="624.8" font-size="7.8" text-anchor="middle" fill="#222" style="stroke:#222;stroke-width:0.06px">450</text>
<text x="125.0" y="624.8" font-size="7.8" text-anchor="middle" fill="#222" style="stroke:#222;stroke-width:0.06px">230</text>
<text x="167.0" y="624.8" font-size="7.8" text-anchor="middle" fill="#222" style="stroke:#222;stroke-width:0.06px">70</text>
<text x="209.0" y="624.8" font-size="7.8" text-anchor="middle" fill="#222" style="stroke:#222;stroke-width:0.06px">19</text>
<text x="251.0" y="624.8" font-size="7.8" text-anchor="middle" fill="#222" style="stroke:#222;stroke-width:0.06px">12</text>
<text x="293.0" y="624.8" font-size="7.8" text-anchor="middle" fill="#222" style="stroke:#222;stroke-width:0.06px">1</text>
<text x="32.2" y="638.6" font-size="7.6" font-weight="bold" text-anchor="middle"><tspan font-style="italic">ABCC1</tspan> Q4</text>
<text x="83.2" y="638.6" font-size="7.8" text-anchor="middle" fill="#222" style="stroke:#222;stroke-width:0.06px">454</text>
<text x="125.0" y="638.6" font-size="7.8" text-anchor="middle" fill="#222" style="stroke:#222;stroke-width:0.06px">223</text>
<text x="167.0" y="638.6" font-size="7.8" text-anchor="middle" fill="#222" style="stroke:#222;stroke-width:0.06px">66</text>
<text x="209.0" y="638.6" font-size="7.8" text-anchor="middle" fill="#222" style="stroke:#222;stroke-width:0.06px">23</text>
<text x="251.0" y="638.6" font-size="7.8" text-anchor="middle" fill="#222" style="stroke:#222;stroke-width:0.06px">8</text>
<text x="293.0" y="638.6" font-size="7.8" text-anchor="middle" fill="#222" style="stroke:#222;stroke-width:0.06px">0</text>
<text x="370.5" y="353.8" font-size="13" font-weight="bold">c</text>
<text x="532.65" y="350.9" font-size="8.86" font-weight="bold" text-anchor="middle" textLength="242.7" lengthAdjust="spacingAndGlyphs">Median Overall Survival (OS), First of T-DXd&gt;Last Contact</text>
<text x="532.65" y="361.4" font-size="8.7" text-anchor="middle" fill="#111" stroke="#111" stroke-width="0.18" textLength="140.0" lengthAdjust="spacingAndGlyphs"><tspan font-style="italic">ERBB2</tspan> Q1 = 24.9 (22.9 &#8211; 32.3) mo.</text>
<text x="532.65" y="371.8" font-size="8.7" text-anchor="middle" fill="#111" stroke="#111" stroke-width="0.18" textLength="140.0" lengthAdjust="spacingAndGlyphs"><tspan font-style="italic">ERBB2</tspan> Q2 = 16.5 (15.0 &#8211; 17.8) mo.</text>
<text x="532.65" y="382.2" font-size="8.7" text-anchor="middle" fill="#111" stroke="#111" stroke-width="0.18" textLength="140.0" lengthAdjust="spacingAndGlyphs"><tspan font-style="italic">ERBB2</tspan> Q3 = 13.7 (12.2 &#8211; 16.6) mo.</text>
<text x="532.65" y="392.6" font-size="8.7" text-anchor="middle" fill="#111" stroke="#111" stroke-width="0.18" textLength="140.0" lengthAdjust="spacingAndGlyphs"><tspan font-style="italic">ERBB2</tspan> Q4 = 13.2 (11.2 &#8211; 14.3) mo.</text>
<text x="532.65" y="403.5" font-size="8.7" text-anchor="middle" fill="#111" stroke="#111" stroke-width="0.18" textLength="37.0" lengthAdjust="spacingAndGlyphs"><tspan font-style="italic">p</tspan>&lt;0.0001</text>
<line x1="431.8" y1="406.0" x2="431.8" y2="560.3" stroke="#5a5a5a" stroke-width="1.1"/>
<line x1="431.8" y1="560.3" x2="666.4" y2="560.3" stroke="#8a8a8a" stroke-width="1.1"/>
<line x1="431.8" y1="553.1" x2="434.6" y2="553.1" stroke="#5a5a5a" stroke-width="1"/>
<text x="425.0" y="556.3" font-size="8.9" font-weight="bold" text-anchor="end">0.0</text>
<line x1="431.8" y1="525.2" x2="434.6" y2="525.2" stroke="#5a5a5a" stroke-width="1"/>
<text x="425.0" y="528.4" font-size="8.9" font-weight="bold" text-anchor="end">0.2</text>
<line x1="431.8" y1="497.3" x2="434.6" y2="497.3" stroke="#5a5a5a" stroke-width="1"/>
<text x="425.0" y="500.5" font-size="8.9" font-weight="bold" text-anchor="end">0.4</text>
<line x1="431.8" y1="469.3" x2="434.6" y2="469.3" stroke="#5a5a5a" stroke-width="1"/>
<text x="425.0" y="472.5" font-size="8.9" font-weight="bold" text-anchor="end">0.6</text>
<line x1="431.8" y1="441.4" x2="434.6" y2="441.4" stroke="#5a5a5a" stroke-width="1"/>
<text x="425.0" y="444.6" font-size="8.9" font-weight="bold" text-anchor="end">0.8</text>
<line x1="431.8" y1="413.5" x2="434.6" y2="413.5" stroke="#5a5a5a" stroke-width="1"/>
<text x="425.0" y="416.7" font-size="8.9" font-weight="bold" text-anchor="end">1.0</text>
<text x="434.2" y="572.1" font-size="8.9" font-weight="bold" text-anchor="middle">0</text>
<line x1="474.5" y1="557.5" x2="474.5" y2="560.3" stroke="#666" stroke-width="1"/>
<text x="474.0" y="572.1" font-size="8.9" font-weight="bold" text-anchor="middle">10</text>
<line x1="517.2" y1="557.5" x2="517.2" y2="560.3" stroke="#666" stroke-width="1"/>
<text x="517.6" y="572.1" font-size="8.9" font-weight="bold" text-anchor="middle">20</text>
<line x1="559.8" y1="557.5" x2="559.8" y2="560.3" stroke="#666" stroke-width="1"/>
<text x="560.4" y="572.1" font-size="8.9" font-weight="bold" text-anchor="middle">30</text>
<line x1="602.5" y1="557.5" x2="602.5" y2="560.3" stroke="#666" stroke-width="1"/>
<text x="603.5" y="572.1" font-size="8.9" font-weight="bold" text-anchor="middle">40</text>
<line x1="645.1" y1="557.5" x2="645.1" y2="560.3" stroke="#666" stroke-width="1"/>
<text x="646.5" y="572.1" font-size="8.9" font-weight="bold" text-anchor="middle">50</text>
<text x="542.5" y="581.9" font-size="7.6" font-weight="bold" text-anchor="middle">OS time (months)</text>
<text transform="translate(408.2,482.5) rotate(-90)" font-size="8.3" text-anchor="middle" style="stroke-width:0.3px" textLength="77" lengthAdjust="spacingAndGlyphs">Event-free proportion</text>
<line x1="431.8" y1="483.3" x2="537.3" y2="483.3" stroke="#444" stroke-width="0.9" stroke-dasharray="3,2"/>
<line x1="487.6" y1="483.3" x2="487.6" y2="560.3" stroke="#888" stroke-width="0.9" stroke-dasharray="3,2"/>
<line x1="490.0" y1="483.3" x2="490.0" y2="560.3" stroke="#888" stroke-width="0.9" stroke-dasharray="3,2"/>
<line x1="501.5" y1="483.3" x2="501.5" y2="560.3" stroke="#444" stroke-width="0.9" stroke-dasharray="3,2"/>
<line x1="537.3" y1="483.3" x2="537.3" y2="560.3" stroke="#444" stroke-width="0.9" stroke-dasharray="3,2"/>
<line x1="494.0" y1="551.5" x2="497.1" y2="551.5" stroke="#7a7a7a" stroke-width="1.1" stroke-dasharray="1.2,1.3"/>
<path d="M489.6 551.5 L494.20000000000005 549.4 L494.20000000000005 553.6Z M501.5 551.5 L496.9 549.4 L496.9 553.6Z" fill="#7a7a7a"/>
<line x1="505.9" y1="545.3" x2="532.9" y2="545.3" stroke="#7a7a7a" stroke-width="1.1" stroke-dasharray="1.2,1.3"/>
<path d="M501.5 545.3 L506.1 543.1999999999999 L506.1 547.4Z M537.3 545.3 L532.6999999999999 543.1999999999999 L532.6999999999999 547.4Z" fill="#7a7a7a"/>
<path d="M431.8 413.7 L433.7 413.7 L433.7 414.4 L435.6 414.4 L435.6 415.1 L437.8 415.1 L437.8 416.7 L440.0 416.7 L440.0 418.3 L442.1 418.3 L442.1 418.6 L444.3 418.6 L444.3 418.9 L446.1 418.9 L446.1 420.2 L448.0 420.2 L448.0 421.4 L449.8 421.4 L449.8 422.7 L451.6 422.7 L451.6 423.8 L453.4 423.8 L453.4 424.9 L455.2 424.9 L455.2 426.0 L457.0 426.0 L457.0 427.1 L458.9 427.1 L458.9 428.1 L460.7 428.1 L460.7 429.2 L462.1 429.2 L462.1 430.8 L463.6 430.8 L463.6 432.5 L465.0 432.5 L465.0 434.1 L466.6 434.1 L466.6 434.9 L468.2 434.9 L468.2 435.8 L469.9 435.8 L469.9 436.6 L471.5 436.6 L471.5 437.4 L473.3 437.4 L473.3 438.5 L475.2 438.5 L475.2 439.6 L477.0 439.6 L477.0 440.7 L478.8 440.7 L478.8 442.1 L480.6 442.1 L480.6 443.6 L482.4 443.6 L482.4 445.0 L484.0 445.0 L484.0 445.8 L485.7 445.8 L485.7 446.6 L487.4 446.6 L487.4 447.5 L489.0 447.5 L489.0 448.3 L490.8 448.3 L490.8 449.3 L492.6 449.3 L492.6 450.4 L494.4 450.4 L494.4 451.4 L495.8 451.4 L495.8 453.0 L497.3 453.0 L497.3 454.7 L498.7 454.7 L498.7 456.3 L500.5 456.3 L500.5 457.2 L502.4 457.2 L502.4 458.1 L504.2 458.1 L504.2 459.0 L506.0 459.0 L506.0 460.7 L507.8 460.7 L507.8 462.3 L509.6 462.3 L509.6 464.0 L511.4 464.0 L511.4 464.5 L513.2 464.5 L513.2 465.1 L515.0 465.1 L515.0 465.6 L516.6 465.6 L516.6 466.6 L518.3 466.6 L518.3 467.5 L520.0 467.5 L520.0 468.4 L521.6 468.4 L521.6 469.4 L523.4 469.4 L523.4 470.7 L525.2 470.7 L525.2 471.9 L527.0 471.9 L527.0 473.2 L528.8 473.2 L528.8 474.1 L530.7 474.1 L530.7 475.0 L532.5 475.0 L532.5 475.9 L533.9 475.9 L533.9 477.5 L535.4 477.5 L535.4 479.2 L536.8 479.2 L536.8 480.8 L537.9 480.8 L537.9 482.7 L539.0 482.7 L539.0 484.6 L540.6 484.6 L540.6 485.0 L542.2 485.0 L542.2 485.5 L543.9 485.5 L543.9 485.9 L545.5 485.9 L545.5 486.3 L547.3 486.3 L547.3 487.4 L549.2 487.4 L549.2 488.4 L551.0 488.4 L551.0 489.5 L552.7 489.5 L552.7 489.6 L554.3 489.6 L554.3 489.8 L556.0 489.8 L556.0 489.9 L562.2 489.9 L562.2 491.9 L564.0 491.9 L564.0 492.1 L565.9 492.1 L565.9 492.3 L567.7 492.3 L567.7 492.5 L569.5 492.5 L569.5 492.7 L571.1 492.7 L571.1 494.7 L572.7 494.7 L572.7 496.7 L575.1 496.7 L575.1 497.9 L577.5 497.9 L577.5 499.1 L579.1 499.1 L579.1 500.3 L580.7 500.3 L580.7 501.5 L582.8 501.5 L582.8 501.9 L585.0 501.9 L585.0 502.2 L587.1 502.2 L587.1 502.6 L589.5 502.6 L589.5 504.7 L591.5 504.7 L591.5 506.3 L593.5 506.3 L593.5 507.9 L595.1 507.9 L595.1 508.1 L596.7 508.1 L596.7 508.3 L598.4 508.3 L598.4 508.6 L600.0 508.6 L600.0 508.8 L601.6 508.8 L601.6 509.0 L603.7 509.0 L603.7 509.6 L605.9 509.6 L605.9 510.1 L608.0 510.1 L608.0 510.7 L610.0 510.7 L610.0 512.3 L612.0 512.3 L612.0 513.9 L635.3 513.9 L635.3 527.2 L655.4 527.2" stroke="#4d76c2" stroke-width="1.2" fill="none" stroke-linejoin="miter"/>
<path d="M431.8 413.7 L433.6 413.7 L433.6 415.0 L435.4 415.0 L435.4 416.3 L437.1 416.3 L437.1 417.6 L438.9 417.6 L438.9 418.9 L440.2 418.9 L440.2 420.6 L441.5 420.6 L441.5 422.4 L442.8 422.4 L442.8 424.1 L444.1 424.1 L444.1 425.9 L445.4 425.9 L445.4 427.6 L447.2 427.6 L447.2 428.7 L449.1 428.7 L449.1 429.8 L450.9 429.8 L450.9 430.9 L452.0 430.9 L452.0 432.6 L453.1 432.6 L453.1 434.4 L454.1 434.4 L454.1 436.1 L455.2 436.1 L455.2 437.9 L456.3 437.9 L456.3 439.6 L457.9 439.6 L457.9 441.0 L459.6 441.0 L459.6 442.3 L461.2 442.3 L461.2 443.6 L462.8 443.6 L462.8 445.0 L464.4 445.0 L464.4 446.6 L466.1 446.6 L466.1 448.2 L467.8 448.2 L467.8 449.9 L469.4 449.9 L469.4 451.5 L470.5 451.5 L470.5 453.3 L471.6 453.3 L471.6 455.0 L472.6 455.0 L472.6 456.8 L473.7 456.8 L473.7 458.5 L474.8 458.5 L474.8 460.3 L476.6 460.3 L476.6 461.7 L478.5 461.7 L478.5 463.2 L480.3 463.2 L480.3 464.6 L481.9 464.6 L481.9 466.5 L483.6 466.5 L483.6 468.4 L485.2 468.4 L485.2 470.3 L486.8 470.3 L486.8 472.2 L488.7 472.2 L488.7 472.7 L490.6 472.7 L490.6 473.2 L492.5 473.2 L492.5 473.8 L494.4 473.8 L494.4 474.3 L495.8 474.3 L495.8 476.3 L497.3 476.3 L497.3 478.3 L498.7 478.3 L498.7 480.3 L500.9 480.3 L500.9 482.5 L503.1 482.5 L503.1 484.6 L504.2 484.6 L504.2 486.4 L505.2 486.4 L505.2 488.3 L506.3 488.3 L506.3 490.1 L507.8 490.1 L507.8 491.9 L509.2 491.9 L509.2 493.7 L510.7 493.7 L510.7 495.5 L512.5 495.5 L512.5 496.6 L514.3 496.6 L514.3 497.7 L516.1 497.7 L516.1 498.8 L517.8 498.8 L517.8 500.4 L519.4 500.4 L519.4 502.0 L521.2 502.0 L521.2 502.4 L523.0 502.4 L523.0 502.7 L524.8 502.7 L524.8 503.1 L526.6 503.1 L526.6 503.1 L528.4 503.1 L528.4 503.1 L530.2 503.1 L530.2 503.1 L532.0 503.1 L532.0 503.2 L533.8 503.2 L533.8 503.2 L535.6 503.2 L535.6 503.2 L537.4 503.2 L537.4 503.2 L537.4 505.9 L542.3 505.9 L542.3 508.6 L550.5 508.6 L550.9 508.6 L550.9 510.4 L551.2 510.4 L551.2 512.2 L551.6 512.2 L551.6 514.0 L553.2 514.0 L553.2 521.1 L555.1 521.1 L555.1 523.3 L557.0 523.3 L557.0 525.5 L558.1 525.5 L558.1 527.1 L559.9 527.1 L559.9 527.2 L561.7 527.2 L561.7 527.3 L563.5 527.3 L563.5 527.4 L565.4 527.4 L565.4 527.5 L567.2 527.5 L567.2 527.6 L569.0 527.6 L569.0 527.7 L570.1 527.7 L570.1 529.3 L571.8 529.3 L571.8 529.4 L573.5 529.4 L573.5 529.5 L575.3 529.5 L575.3 529.7 L577.0 529.7 L577.0 529.8 L577.0 532.4 L582.7 532.4 L582.7 535.4 L598.0 535.4 L598.0 542.2 L631.7 542.2 L631.7 553.3" stroke="#e47d3c" stroke-width="1.2" fill="none" stroke-linejoin="miter"/>
<path d="M431.8 413.7 L433.4 413.7 L433.4 414.7 L435.1 414.7 L435.1 415.8 L436.7 415.8 L436.7 416.8 L438.4 416.8 L438.4 417.9 L440.0 417.9 L440.0 418.9 L441.1 418.9 L441.1 420.8 L442.1 420.8 L442.1 422.7 L443.2 422.7 L443.2 424.6 L444.3 424.6 L444.3 426.5 L445.2 426.5 L445.2 428.3 L446.1 428.3 L446.1 430.1 L447.1 430.1 L447.1 431.9 L448.0 431.9 L448.0 433.8 L448.9 433.8 L448.9 435.6 L449.8 435.6 L449.8 437.4 L450.7 437.4 L450.7 439.0 L451.6 439.0 L451.6 440.7 L452.5 440.7 L452.5 442.3 L453.4 442.3 L453.4 443.9 L454.3 443.9 L454.3 445.6 L455.2 445.6 L455.2 447.2 L457.0 447.2 L457.0 448.3 L458.9 448.3 L458.9 449.4 L460.7 449.4 L460.7 450.5 L462.3 450.5 L462.3 451.9 L463.9 451.9 L463.9 453.2 L465.6 453.2 L465.6 454.5 L467.2 454.5 L467.2 455.9 L468.8 455.9 L468.8 457.8 L470.4 457.8 L470.4 459.7 L472.1 459.7 L472.1 461.6 L473.7 461.6 L473.7 463.5 L474.6 463.5 L474.6 465.2 L475.5 465.2 L475.5 467.0 L476.3 467.0 L476.3 468.7 L477.2 468.7 L477.2 470.5 L478.1 470.5 L478.1 472.2 L479.9 472.2 L479.9 473.5 L481.7 473.5 L481.7 474.7 L483.5 474.7 L483.5 476.0 L485.1 476.0 L485.1 477.9 L486.8 477.9 L486.8 479.8 L488.4 479.8 L488.4 481.6 L490.0 481.6 L490.0 483.5 L491.8 483.5 L491.8 484.6 L493.6 484.6 L493.6 485.7 L495.4 485.7 L495.4 486.8 L497.2 486.8 L497.2 487.9 L499.1 487.9 L499.1 489.0 L500.9 489.0 L500.9 490.1 L502.3 490.1 L502.3 491.9 L503.8 491.9 L503.8 493.7 L505.2 493.7 L505.2 495.5 L507.4 495.5 L507.4 497.7 L509.6 497.7 L509.6 499.9 L511.4 499.9 L511.4 500.6 L513.2 500.6 L513.2 501.3 L515.0 501.3 L515.0 502.0 L516.8 502.0 L516.8 502.6 L518.7 502.6 L518.7 503.1 L520.5 503.1 L520.5 503.7 L522.3 503.7 L522.3 503.9 L524.0 503.9 L524.0 504.0 L525.8 504.0 L525.8 504.1 L527.6 504.1 L527.6 504.3 L528.3 504.3 L528.3 506.0 L528.9 506.0 L528.9 507.8 L529.6 507.8 L529.6 509.5 L530.2 509.5 L530.2 511.3 L530.9 511.3 L530.9 513.0 L532.5 513.0 L532.5 513.1 L534.1 513.1 L534.1 513.2 L535.8 513.2 L535.8 513.4 L537.4 513.4 L537.4 513.5 L546.7 513.5 L546.7 521.1 L548.4 521.1 L548.4 521.2 L550.1 521.2 L550.1 521.2 L551.8 521.2 L551.8 521.3 L553.5 521.3 L553.5 521.4 L555.2 521.4 L555.2 521.5 L556.9 521.5 L556.9 521.6 L558.6 521.6 L558.6 521.6 L560.3 521.6 L560.3 521.7 L560.3 525.5 L561.9 525.5 L561.9 526.0 L563.5 526.0 L563.5 526.6 L565.2 526.6 L565.2 527.2 L566.8 527.2 L566.8 527.7 L566.8 530.4 L573.9 530.4 L573.9 533.2 L580.6 533.2 L580.6 536.3 L597.0 536.3 L597.0 539.3 L605.1 539.3 L605.1 542.3 L615.4 542.3 L615.4 546.6 L648.5 546.6" stroke="#55b257" stroke-width="1.2" fill="none" stroke-linejoin="miter"/>
<path d="M431.8 413.7 L433.8 413.7 L433.8 415.4 L435.8 415.4 L435.8 417.2 L437.8 417.2 L437.8 418.9 L438.9 418.9 L438.9 420.7 L440.0 420.7 L440.0 422.5 L441.1 422.5 L441.1 424.4 L442.1 424.4 L442.1 426.2 L443.2 426.2 L443.2 428.0 L444.3 428.0 L444.3 429.8 L445.7 429.8 L445.7 431.4 L447.1 431.4 L447.1 433.1 L448.4 433.1 L448.4 434.7 L449.8 434.7 L449.8 436.3 L450.9 436.3 L450.9 438.0 L452.0 438.0 L452.0 439.8 L453.0 439.8 L453.0 441.5 L454.1 441.5 L454.1 443.3 L455.2 443.3 L455.2 445.0 L456.3 445.0 L456.3 446.7 L457.4 446.7 L457.4 448.5 L458.5 448.5 L458.5 450.2 L459.6 450.2 L459.6 452.0 L460.7 452.0 L460.7 453.7 L461.8 453.7 L461.8 455.3 L462.9 455.3 L462.9 457.0 L463.9 457.0 L463.9 458.6 L465.0 458.6 L465.0 460.3 L466.1 460.3 L466.1 461.9 L467.7 461.9 L467.7 462.8 L469.4 462.8 L469.4 463.8 L471.0 463.8 L471.0 464.8 L472.6 464.8 L472.6 465.7 L473.7 465.7 L473.7 467.3 L474.8 467.3 L474.8 468.9 L475.9 468.9 L475.9 470.6 L477.0 470.6 L477.0 472.2 L478.4 472.2 L478.4 474.0 L479.9 474.0 L479.9 475.9 L481.3 475.9 L481.3 477.7 L482.5 477.7 L482.5 479.3 L483.8 479.3 L483.8 480.9 L485.0 480.9 L485.0 482.5 L486.3 482.5 L486.3 484.2 L487.5 484.2 L487.5 485.8 L488.8 485.8 L488.8 487.4 L490.0 487.4 L490.0 489.0 L491.6 489.0 L491.6 490.1 L493.3 490.1 L493.3 491.2 L496.5 491.2 L496.5 491.7 L497.9 491.7 L497.9 493.5 L499.2 493.5 L499.2 495.2 L500.6 495.2 L500.6 497.0 L502.0 497.0 L502.0 498.8 L503.9 498.8 L503.9 499.2 L505.8 499.2 L505.8 499.6 L507.7 499.6 L507.7 500.0 L509.6 500.0 L509.6 500.4 L511.4 500.4 L511.4 501.7 L513.2 501.7 L513.2 502.9 L515.0 502.9 L515.0 504.2 L516.7 504.2 L516.7 504.8 L518.3 504.8 L518.3 505.3 L520.0 505.3 L520.0 505.9 L521.6 505.9 L521.6 506.4 L523.3 506.4 L523.3 507.0 L525.2 507.0 L525.2 508.1 L527.1 508.1 L527.1 509.1 L529.0 509.1 L529.0 510.2 L530.9 510.2 L530.9 511.3 L532.5 511.3 L532.5 513.0 L534.2 513.0 L534.2 514.6 L537.4 514.6 L537.4 517.3 L547.2 517.3 L547.2 521.1 L552.7 521.1 L552.7 523.3 L554.5 523.3 L554.5 523.7 L556.3 523.7 L556.3 524.0 L558.1 524.0 L558.1 524.4 L559.2 524.4 L559.2 526.0 L560.3 526.0 L560.3 527.7 L561.9 527.7 L561.9 527.8 L563.5 527.8 L563.5 528.0 L565.2 528.0 L565.2 528.1 L566.8 528.1 L566.8 528.2 L586.8 528.2 L586.8 534.4 L598.5 534.4 L598.5 541.1 L617.2 541.1 L617.2 547.3 L631.0 547.3" stroke="#c63e4e" stroke-width="1.2" fill="none" stroke-linejoin="miter"/>
<path d="M641.4 525.9V528.5 M655.2 525.9V528.5" stroke="#4d76c2" stroke-width="1" fill="none"/>
<path d="M620.9 512.6V515.2 M624.9 512.6V515.2 M629.2 512.6V515.2" stroke="#4d76c2" stroke-width="1" fill="none"/>
<path d="M637.3 545.3V547.9 M648.5 545.3V547.9" stroke="#55b257" stroke-width="1" fill="none"/>
<path d="M609.2 540.9V543.5" stroke="#e47d3c" stroke-width="1" fill="none"/>
<line x1="607.6" y1="414.4" x2="622.4" y2="414.4" stroke="#4d76c2" stroke-width="1.2" opacity="0.75"/>
<text x="628.3000000000001" y="415.9" font-size="7.5" font-weight="bold" textLength="37.5" lengthAdjust="spacingAndGlyphs"><tspan font-style="italic">ERBB2</tspan> Q4</text>
<line x1="607.6" y1="423.4" x2="622.4" y2="423.4" stroke="#e47d3c" stroke-width="1.2" opacity="0.75"/>
<text x="628.3000000000001" y="424.9" font-size="7.5" font-weight="bold" textLength="37.5" lengthAdjust="spacingAndGlyphs"><tspan font-style="italic">ERBB2</tspan> Q3</text>
<line x1="607.6" y1="432.4" x2="622.4" y2="432.4" stroke="#55b257" stroke-width="1.2" opacity="0.75"/>
<text x="628.3000000000001" y="433.9" font-size="7.5" font-weight="bold" textLength="37.5" lengthAdjust="spacingAndGlyphs"><tspan font-style="italic">ERBB2</tspan> Q2</text>
<line x1="607.6" y1="441.4" x2="622.4" y2="441.4" stroke="#c63e4e" stroke-width="1.2" opacity="0.75"/>
<text x="628.3000000000001" y="442.9" font-size="7.5" font-weight="bold" textLength="37.5" lengthAdjust="spacingAndGlyphs"><tspan font-style="italic">ERBB2</tspan> Q1</text>
<line x1="360.5" y1="587.0" x2="666.0" y2="587.0" stroke="#333" stroke-width="1"/>
<line x1="360.5" y1="600.8" x2="666.0" y2="600.8" stroke="#333" stroke-width="1"/>
<line x1="360.5" y1="614.6" x2="666.0" y2="614.6" stroke="#333" stroke-width="1"/>
<line x1="360.5" y1="628.4" x2="666.0" y2="628.4" stroke="#333" stroke-width="1"/>
<line x1="360.5" y1="642.2" x2="666.0" y2="642.2" stroke="#333" stroke-width="1"/>
<line x1="360.5" y1="587.0" x2="360.5" y2="642.2" stroke="#333" stroke-width="1"/>
<line x1="423.5" y1="587.0" x2="423.5" y2="642.2" stroke="#333" stroke-width="1"/>
<line x1="464.0" y1="587.0" x2="464.0" y2="642.2" stroke="#333" stroke-width="1"/>
<line x1="504.3" y1="587.0" x2="504.3" y2="642.2" stroke="#333" stroke-width="1"/>
<line x1="544.7" y1="587.0" x2="544.7" y2="642.2" stroke="#333" stroke-width="1"/>
<line x1="584.8" y1="587.0" x2="584.8" y2="642.2" stroke="#333" stroke-width="1"/>
<line x1="625.3" y1="587.0" x2="625.3" y2="642.2" stroke="#333" stroke-width="1"/>
<line x1="666.0" y1="587.0" x2="666.0" y2="642.2" stroke="#333" stroke-width="1"/>
<text x="392.0" y="597.2" font-size="7.6" font-weight="bold" text-anchor="middle"><tspan font-style="italic">ERBB2</tspan> Q4</text>
<text x="443.8" y="597.2" font-size="7.8" text-anchor="middle" fill="#222" style="stroke:#222;stroke-width:0.06px">453</text>
<text x="484.1" y="597.2" font-size="7.8" text-anchor="middle" fill="#222" style="stroke:#222;stroke-width:0.06px">301</text>
<text x="524.5" y="597.2" font-size="7.8" text-anchor="middle" fill="#222" style="stroke:#222;stroke-width:0.06px">154</text>
<text x="564.8" y="597.2" font-size="7.8" text-anchor="middle" fill="#222" style="stroke:#222;stroke-width:0.06px">60</text>
<text x="605.0" y="597.2" font-size="7.8" text-anchor="middle" fill="#222" style="stroke:#222;stroke-width:0.06px">25</text>
<text x="645.6" y="597.2" font-size="7.8" text-anchor="middle" fill="#222" style="stroke:#222;stroke-width:0.06px">1</text>
<text x="392.0" y="611.0" font-size="7.6" font-weight="bold" text-anchor="middle"><tspan font-style="italic">ERBB2</tspan> Q3</text>
<text x="443.8" y="611.0" font-size="7.8" text-anchor="middle" fill="#222" style="stroke:#222;stroke-width:0.06px">453</text>
<text x="484.1" y="611.0" font-size="7.8" text-anchor="middle" fill="#222" style="stroke:#222;stroke-width:0.06px">224</text>
<text x="524.5" y="611.0" font-size="7.8" text-anchor="middle" fill="#222" style="stroke:#222;stroke-width:0.06px">52</text>
<text x="564.8" y="611.0" font-size="7.8" text-anchor="middle" fill="#222" style="stroke:#222;stroke-width:0.06px">9</text>
<text x="605.0" y="611.0" font-size="7.8" text-anchor="middle" fill="#222" style="stroke:#222;stroke-width:0.06px">2</text>
<text x="645.6" y="611.0" font-size="7.8" text-anchor="middle" fill="#222" style="stroke:#222;stroke-width:0.06px">0</text>
<text x="392.0" y="624.8" font-size="7.6" font-weight="bold" text-anchor="middle"><tspan font-style="italic">ERBB2</tspan> Q2</text>
<text x="443.8" y="624.8" font-size="7.8" text-anchor="middle" fill="#222" style="stroke:#222;stroke-width:0.06px">454</text>
<text x="484.1" y="624.8" font-size="7.8" text-anchor="middle" fill="#222" style="stroke:#222;stroke-width:0.06px">208</text>
<text x="524.5" y="624.8" font-size="7.8" text-anchor="middle" fill="#222" style="stroke:#222;stroke-width:0.06px">36</text>
<text x="564.8" y="624.8" font-size="7.8" text-anchor="middle" fill="#222" style="stroke:#222;stroke-width:0.06px">11</text>
<text x="605.0" y="624.8" font-size="7.8" text-anchor="middle" fill="#222" style="stroke:#222;stroke-width:0.06px">4</text>
<text x="645.6" y="624.8" font-size="7.8" text-anchor="middle" fill="#222" style="stroke:#222;stroke-width:0.06px">1</text>
<text x="392.0" y="638.6" font-size="7.6" font-weight="bold" text-anchor="middle"><tspan font-style="italic">ERBB2</tspan> Q1</text>
<text x="443.8" y="638.6" font-size="7.8" text-anchor="middle" fill="#222" style="stroke:#222;stroke-width:0.06px">455</text>
<text x="484.1" y="638.6" font-size="7.8" text-anchor="middle" fill="#222" style="stroke:#222;stroke-width:0.06px">212</text>
<text x="524.5" y="638.6" font-size="7.8" text-anchor="middle" fill="#222" style="stroke:#222;stroke-width:0.06px">44</text>
<text x="564.8" y="638.6" font-size="7.8" text-anchor="middle" fill="#222" style="stroke:#222;stroke-width:0.06px">7</text>
<text x="605.0" y="638.6" font-size="7.8" text-anchor="middle" fill="#222" style="stroke:#222;stroke-width:0.06px">2</text>
<text x="645.6" y="638.6" font-size="7.8" text-anchor="middle" fill="#222" style="stroke:#222;stroke-width:0.06px">0</text>
<circle cx="171" cy="407.6" r="0.6" fill="#888"/>
</svg>
</body></html>
